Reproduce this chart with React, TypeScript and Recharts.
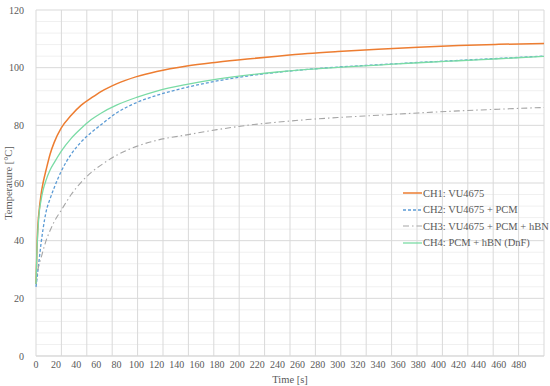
import { CartesianGrid, Line, LineChart, ReferenceLine, XAxis, YAxis } from "recharts";

// time samples [s]
const time = [0, 1, 2, 3, 5, 7, 10, 14, 18, 25, 35, 45, 55, 65, 80, 100, 120, 150, 180, 210, 240, 270, 300, 340, 380, 420, 460, 505];

const ch1 = [25, 38, 46, 50, 56, 60, 64.5, 70, 74, 79, 83.5, 87, 89.5, 91.8, 94.4, 96.9, 98.7, 100.6, 101.9, 103, 104, 104.9, 105.6, 106.4, 107.1, 107.7, 108.1, 108.4];
const ch2 = [24, 27, 30, 33, 39, 44, 50, 54.5, 58.3, 64, 70, 74.3, 77.5, 80.3, 84.3, 87.9, 90.4, 93.2, 95.4, 97.1, 98.4, 99.4, 100.2, 101, 101.8, 102.5, 103.2, 104];
const ch3 = [25, 27.5, 30, 31.5, 34, 36.5, 40, 43.5, 46.5, 50.5, 56, 60.3, 63.7, 66.3, 69.6, 72.7, 74.8, 76.7, 78.5, 80, 81.1, 82, 82.7, 83.5, 84.3, 85, 85.6, 86.2];
const ch4 = [25, 37, 44, 49, 54, 57.5, 61, 64.5, 67, 71, 75.5, 79, 82, 84.3, 87, 89.7, 91.9, 94.2, 96, 97.4, 98.5, 99.4, 100.1, 100.9, 101.7, 102.4, 103.1, 103.9];

const xTicks = [0, 20, 40, 60, 80, 100, 120, 140, 160, 180, 200, 220, 240, 260, 280, 300, 320, 340, 360, 380, 400, 420, 440, 460, 480];
const yTicks = [0, 20, 40, 60, 80, 100, 120];
const yMinor = [4, 8, 12, 16, 24, 28, 32, 36, 44, 48, 52, 56, 64, 68, 72, 76, 84, 88, 92, 96, 104, 108, 112, 116];
const xGrid = [0, 25.25, 50.5, 75.75, 101, 126.25, 151.5, 176.75, 202, 227.25, 252.5, 277.75, 303, 328.25, 353.5, 378.75, 404, 429.25, 454.5, 479.75, 505];

const series = [
  { key: "ch1", name: "CH1: VU4675", color: "#ED7D31", dash: undefined, width: 1.5 },
  { key: "ch2", name: "CH2: VU4675 + PCM", color: "#5B9BD5", dash: "3 2", width: 1.3 },
  { key: "ch3", name: "CH3: VU4675 + PCM + hBN", color: "#A5A5A5", dash: "6 3 1.5 3", width: 1.1 },
  { key: "ch4", name: "CH4: PCM + hBN (DnF)", color: "#7ADBA5", dash: undefined, width: 1.3 },
];

const data = time.map((t, i) => ({ t, ch1: ch1[i], ch2: ch2[i], ch3: ch3[i], ch4: ch4[i] }));

const font = "Liberation Serif, serif";
const textColor = "#595959";
const tickStyle = { fill: textColor, fontSize: 10, fontFamily: font, style: { fontFamily: font } };

function LegendBox() {
  return (
    <div
      style={{
        position: "absolute",
        left: 403,
        top: 185,
        fontFamily: font,
        fontSize: 10.5,
        color: textColor,
        whiteSpace: "nowrap",
      }}
    >
      {series.map((s) => (
        <div key={s.key} style={{ display: "flex", alignItems: "center", height: 16.5 }}>
          <svg width={20} height={6}>
            <line x1={0} y1={3} x2={19} y2={3} stroke={s.color} strokeWidth={s.width} strokeDasharray={s.dash} />
          </svg>
          <span>{s.name}</span>
        </div>
      ))}
    </div>
  );
}

export default function App() {
  return (
    <div style={{ position: "absolute", left: 0, top: 0, width: 550, height: 386, background: "#fff", fontFamily: font }}>
      <LineChart
        width={550}
        height={386}
        data={data}
        margin={{ top: 10, right: 6, bottom: 0, left: 0 }}
        style={{ fontFamily: font }}
      >
        <CartesianGrid vertical={false} stroke="#d9d9d9" strokeWidth={1} />
        {yMinor.map((v) => (
          <ReferenceLine key={"ym" + v} y={v} stroke="#f0f0f0" strokeWidth={1} />
        ))}
        {xGrid.map((v) => (
          <ReferenceLine key={"xg" + v} x={v} stroke="#d9d9d9" strokeWidth={1} />
        ))}
        <XAxis
          dataKey="t"
          type="number"
          domain={[0, 505]}
          ticks={xTicks}
          interval={0}
          height={30}
          tickLine={false}
          tickSize={3}
          axisLine={{ stroke: "#d9d9d9" }}
          tick={tickStyle}
          tickMargin={2}
          label={{ value: "Time [s]", position: "insideBottom", offset: 3, fill: textColor, fontSize: 10.5, fontFamily: font, style: { fontFamily: font } }}
        />
        <YAxis
          type="number"
          domain={[0, 120]}
          ticks={yTicks}
          width={36}
          tickLine={false}
          axisLine={false}
          tick={tickStyle}
          tickMargin={6}
          label={{ value: "Temperature [°C]", angle: -90, position: "insideLeft", offset: 8, fill: textColor, fontSize: 10.5, fontFamily: font, style: { textAnchor: "middle", fontFamily: font } }}
        />
        {series.map((s) => (
          <Line
            key={s.key}
            dataKey={s.key}
            name={s.name}
            type="monotone"
            stroke={s.color}
            strokeWidth={s.width}
            strokeDasharray={s.dash}
            dot={false}
            isAnimationActive={false}
          />
        ))}
      </LineChart>
      <LegendBox />
    </div>
  );
}
